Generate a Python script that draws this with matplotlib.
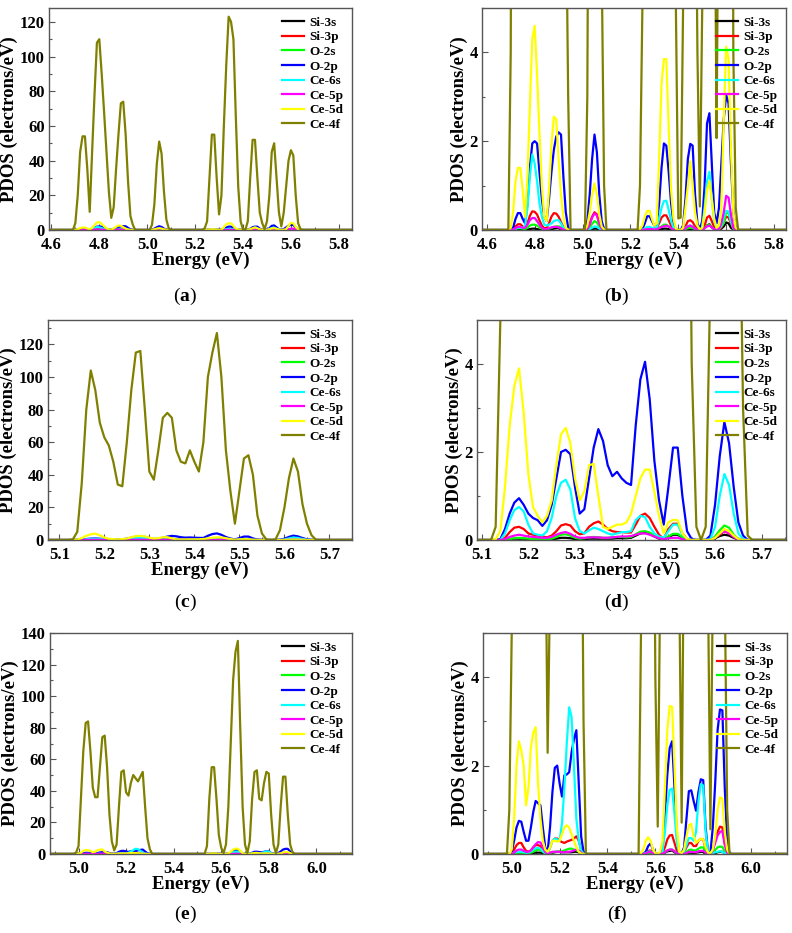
import numpy as np
import matplotlib
matplotlib.use("Agg")
import matplotlib.pyplot as plt
from matplotlib.ticker import MultipleLocator

plt.rcParams['font.family'] = 'Liberation Serif'
plt.rcParams['font.weight'] = 'bold'
plt.rcParams['mathtext.fontset'] = 'custom'
plt.rcParams['mathtext.rm'] = 'Liberation Serif'
plt.rcParams['mathtext.bf'] = 'Liberation Serif:bold'

labels = ["Si-3s", "Si-3p", "O-2s", "O-2p", "Ce-6s", "Ce-5p", "Ce-5d", "Ce-4f"]
colors = ["#000000", "#ff0000", "#00ff00", "#0000ff", "#00ffff", "#ff00ff", "#ffff00", "#808000"]

# ---------------- data set 1 : panels (a) and (b) ----------------
energy_a = [4.50,
            4.69, 4.70, 4.71, 4.72, 4.73, 4.74, 4.75, 4.76, 4.77, 4.78, 4.79, 4.80, 4.81, 4.82,
            4.83, 4.84, 4.85, 4.86, 4.87, 4.88, 4.89, 4.90, 4.91, 4.92, 4.93, 4.94, 4.95,
            5.01, 5.02, 5.03, 5.04, 5.05, 5.06, 5.07, 5.08, 5.09, 5.10,
            5.23, 5.24, 5.25, 5.26, 5.27, 5.28, 5.29, 5.30, 5.31, 5.32, 5.33, 5.34, 5.35, 5.36,
            5.37, 5.38, 5.39, 5.40, 5.41, 5.42, 5.43, 5.44, 5.45, 5.46, 5.47, 5.48, 5.49, 5.50,
            5.51, 5.52, 5.53, 5.54, 5.55, 5.56, 5.57, 5.58, 5.59, 5.60, 5.61, 5.62, 5.63, 5.64, 5.65,
            6.00]
si3s_a = [0,
          0, 0, 0, 0.01, 0.01, 0.01, 0.01, 0.01, 0.01, 0.02, 0.03, 0.03, 0.02, 0.01,
          0.01, 0, 0, 0.01, 0.02, 0.03, 0.04, 0.04, 0.03, 0.01, 0, 0, 0,
          0, 0, 0.01, 0.02, 0.03, 0.03, 0.01, 0, 0, 0,
          0, 0, 0, 0, 0.01, 0.01, 0.01, 0, 0.01, 0.01, 0.02, 0.03, 0.03, 0.02,
          0.01, 0, 0, 0, 0, 0, 0.01, 0.02, 0.02, 0.02, 0.01, 0, 0, 0.01,
          0.05, 0.1, 0.13, 0.06, 0.02, 0.01, 0.01, 0.03, 0.08, 0.17, 0.15, 0.05, 0.01, 0, 0,
          0]
si3p_a = [0,
          0, 0, 0.02, 0.08, 0.13, 0.13, 0.08, 0.05, 0.15, 0.32, 0.42, 0.41, 0.35, 0.22,
          0.1, 0.04, 0.05, 0.15, 0.3, 0.38, 0.37, 0.3, 0.18, 0.06, 0.01, 0, 0,
          0, 0.03, 0.15, 0.3, 0.4, 0.35, 0.15, 0.03, 0, 0,
          0, 0, 0.01, 0.02, 0.05, 0.05, 0.03, 0.02, 0.05, 0.15, 0.28, 0.33, 0.33, 0.22,
          0.1, 0.03, 0.01, 0, 0, 0.02, 0.08, 0.2, 0.22, 0.18, 0.08, 0.02, 0, 0.02,
          0.1, 0.28, 0.32, 0.2, 0.06, 0.02, 0.02, 0.05, 0.18, 0.3, 0.28, 0.15, 0.03, 0, 0,
          0]
o2s_a = [0,
         0, 0, 0.01, 0.02, 0.04, 0.04, 0.03, 0.02, 0.05, 0.1, 0.12, 0.12, 0.1, 0.06,
         0.03, 0.01, 0.01, 0.03, 0.05, 0.07, 0.08, 0.08, 0.06, 0.02, 0, 0, 0,
         0, 0.01, 0.06, 0.14, 0.2, 0.17, 0.08, 0.02, 0, 0,
         0, 0, 0, 0.01, 0.02, 0.02, 0.01, 0.01, 0.02, 0.05, 0.08, 0.12, 0.12, 0.08,
         0.04, 0.01, 0, 0, 0, 0.01, 0.02, 0.04, 0.05, 0.04, 0.02, 0, 0, 0.01,
         0.04, 0.1, 0.12, 0.07, 0.02, 0.01, 0.02, 0.08, 0.15, 0.4, 0.38, 0.18, 0.03, 0, 0,
         0]
o2p_a = [0,
         0, 0, 0.05, 0.25, 0.38, 0.38, 0.25, 0.15, 0.6, 1.4, 1.95, 2.0, 1.95, 1.3,
         0.7, 0.3, 0.2, 0.7, 1.3, 1.8, 2.1, 2.2, 2.15, 1.2, 0.4, 0.05, 0,
         0, 0.2, 0.8, 1.6, 2.15, 1.75, 0.8, 0.2, 0.02, 0,
         0, 0, 0.02, 0.15, 0.31, 0.31, 0.2, 0.1, 0.12, 0.6, 1.4, 1.95, 1.9, 1.3,
         0.6, 0.15, 0.02, 0, 0, 0.1, 0.7, 1.6, 1.94, 1.9, 0.8, 0.15, 0.02, 0.2,
         1.0, 2.4, 2.63, 1.5, 0.4, 0.15, 0.5, 1.5, 2.5, 3.04, 2.85, 1.5, 0.4, 0.05, 0,
         0]
ce6s_a = [0,
          0, 0, 0.01, 0.03, 0.05, 0.05, 0.05, 0.1, 0.5, 1.2, 1.7, 1.5, 1.1, 0.6,
          0.3, 0.12, 0.1, 0.12, 0.15, 0.2, 0.22, 0.22, 0.15, 0.05, 0.01, 0, 0,
          0, 0, 0.02, 0.05, 0.08, 0.07, 0.03, 0.01, 0, 0,
          0, 0, 0.01, 0.03, 0.07, 0.07, 0.05, 0.03, 0.05, 0.25, 0.5, 0.65, 0.66, 0.45,
          0.2, 0.05, 0.01, 0, 0, 0.02, 0.05, 0.09, 0.1, 0.08, 0.03, 0.01, 0, 0.05,
          0.5, 1.1, 1.31, 0.7, 0.2, 0.05, 0.03, 0.1, 0.3, 0.43, 0.42, 0.2, 0.05, 0.01, 0,
          0]
ce5p_a = [0,
          0, 0, 0.01, 0.04, 0.07, 0.07, 0.05, 0.05, 0.12, 0.22, 0.27, 0.27, 0.2, 0.12,
          0.05, 0.02, 0.02, 0.04, 0.06, 0.07, 0.07, 0.06, 0.04, 0.01, 0, 0, 0,
          0, 0.02, 0.12, 0.28, 0.37, 0.33, 0.15, 0.03, 0, 0,
          0, 0, 0, 0.01, 0.02, 0.02, 0.02, 0.01, 0.02, 0.04, 0.07, 0.08, 0.1, 0.08,
          0.04, 0.01, 0, 0, 0, 0.01, 0.04, 0.08, 0.1, 0.07, 0.03, 0.01, 0, 0.01,
          0.04, 0.08, 0.1, 0.06, 0.02, 0.01, 0.03, 0.15, 0.4, 0.77, 0.73, 0.35, 0.05, 0, 0,
          0]
ce5d_a = [0,
          0, 0.05, 0.4, 1.1, 1.4, 1.4, 0.9, 0.3, 1.2, 2.8, 4.3, 4.6, 3.5, 2.2,
          1.0, 0.3, 0.2, 0.9, 1.9, 2.55, 2.5, 1.6, 0.8, 0.3, 0.05, 0.01, 0,
          0, 0.1, 0.4, 0.8, 1.05, 0.8, 0.35, 0.08, 0.01, 0,
          0, 0.02, 0.1, 0.3, 0.43, 0.43, 0.25, 0.1, 0.15, 1.6, 3.3, 3.85, 3.85, 2.3,
          0.9, 0.25, 0.03, 0, 0, 0.05, 0.5, 1.0, 1.55, 1.0, 0.4, 0.1, 0.01, 0.05,
          0.4, 0.9, 1.1, 0.7, 0.25, 0.05, 0.1, 0.5, 2.5, 4.13, 3.85, 1.8, 0.4, 0.05, 0,
          0]
ce4f_a = [0,
          0, 4, 20, 45, 54, 54, 35, 10.5, 45, 78, 108, 110, 90, 68,
          45, 22, 7, 13, 35, 55, 73, 74, 55, 28, 8, 3, 0,
          0, 3, 15, 38, 51, 44, 22, 6, 1, 0,
          0, 1, 5, 30, 55, 55, 30, 9, 20, 60, 95, 123, 120, 110,
          65, 25, 5, 0.26, 0.28, 5, 30, 52, 52, 30, 10, 4, 0.53, 5,
          20, 45, 50, 30, 10, 2.07, 10, 25, 40, 46, 43, 20, 4, 0.5, 0,
          0]

# ---------------- data set 2 : panels (c) and (d) ----------------
energy_c = [5.00,
            5.12, 5.13, 5.14, 5.15, 5.16, 5.17, 5.18, 5.19, 5.20, 5.21, 5.22, 5.23, 5.24, 5.25,
            5.26, 5.27, 5.28, 5.29, 5.30, 5.31, 5.32, 5.33, 5.34, 5.35, 5.36, 5.37, 5.38, 5.39,
            5.40, 5.41, 5.42, 5.43, 5.44, 5.45, 5.46, 5.47, 5.48, 5.49, 5.50, 5.51, 5.52, 5.53,
            5.54, 5.55, 5.56, 5.57, 5.58, 5.59, 5.60, 5.61, 5.62, 5.63, 5.64, 5.65, 5.66, 5.67, 5.68,
            5.80]
si3s_c = [0,
          0, 0, 0, 0.01, 0.02, 0.03, 0.03, 0.03, 0.02, 0.02, 0.02, 0.01, 0.01, 0.02,
          0.03, 0.05, 0.05, 0.04, 0.02, 0.02, 0.02, 0.03, 0.03, 0.03, 0.03, 0.03, 0.03, 0.04,
          0.04, 0.04, 0.05, 0.1, 0.15, 0.16, 0.14, 0.08, 0.03, 0.01, 0.06, 0.12, 0.12, 0.05,
          0.01, 0, 0, 0, 0, 0, 0.04, 0.09, 0.12, 0.1, 0.05, 0.01, 0, 0, 0,
          0]
si3p_c = [0,
          0, 0, 0, 0.05, 0.18, 0.28, 0.3, 0.25, 0.15, 0.12, 0.1, 0.08, 0.06, 0.1,
          0.2, 0.33, 0.36, 0.33, 0.2, 0.13, 0.15, 0.3, 0.38, 0.42, 0.35, 0.25, 0.2, 0.18,
          0.18, 0.17, 0.17, 0.35, 0.55, 0.6, 0.5, 0.3, 0.12, 0.03, 0.25, 0.37, 0.37, 0.15,
          0.02, 0, 0, 0, 0, 0, 0.05, 0.12, 0.2, 0.15, 0.07, 0.01, 0, 0, 0,
          0]
o2s_c = [0,
         0, 0, 0, 0.01, 0.02, 0.04, 0.05, 0.04, 0.03, 0.02, 0.02, 0.02, 0.02, 0.03,
         0.07, 0.12, 0.13, 0.1, 0.05, 0.03, 0.04, 0.06, 0.07, 0.06, 0.05, 0.05, 0.06, 0.07,
         0.07, 0.06, 0.07, 0.13, 0.19, 0.2, 0.17, 0.1, 0.04, 0.02, 0.08, 0.14, 0.14, 0.06,
         0.01, 0, 0, 0, 0, 0, 0.08, 0.22, 0.33, 0.28, 0.12, 0.02, 0, 0, 0,
         0]
o2p_c = [0,
         0, 0, 0.02, 0.25, 0.6, 0.85, 0.95, 0.8, 0.6, 0.5, 0.45, 0.32, 0.45, 0.8,
         1.4, 2.0, 2.05, 1.95, 1.2, 0.6, 0.7, 1.4, 2.1, 2.52, 2.25, 1.7, 1.45, 1.55,
         1.4, 1.3, 1.25, 2.6, 3.65, 4.05, 3.2, 1.8, 0.9, 0.35, 1.2, 2.1, 2.1, 1.0,
         0.2, 0.02, 0, 0, 0, 0.1, 0.8, 1.9, 2.68, 2.2, 1.2, 0.4, 0.1, 0, 0,
         0]
ce6s_c = [0,
          0, 0, 0, 0.15, 0.45, 0.68, 0.75, 0.65, 0.35, 0.15, 0.12, 0.1, 0.2, 0.5,
          1.0, 1.3, 1.37, 1.15, 0.5, 0.2, 0.15, 0.22, 0.28, 0.25, 0.2, 0.15, 0.12, 0.15,
          0.18, 0.18, 0.2, 0.45, 0.55, 0.52, 0.3, 0.15, 0.08, 0.05, 0.2, 0.35, 0.35, 0.12,
          0.02, 0, 0, 0, 0, 0.02, 0.3, 1.0, 1.5, 1.25, 0.6, 0.15, 0.02, 0, 0,
          0]
ce5p_c = [0,
          0, 0, 0, 0.02, 0.07, 0.1, 0.12, 0.1, 0.08, 0.07, 0.06, 0.05, 0.05, 0.07,
          0.12, 0.16, 0.18, 0.14, 0.08, 0.05, 0.05, 0.06, 0.06, 0.06, 0.05, 0.05, 0.06, 0.07,
          0.08, 0.08, 0.09, 0.12, 0.15, 0.15, 0.12, 0.08, 0.04, 0.02, 0.04, 0.05, 0.05, 0.02,
          0, 0, 0, 0, 0, 0, 0.05, 0.14, 0.2, 0.16, 0.07, 0.01, 0, 0, 0,
          0]
ce5d_c = [0,
          0, 0.02, 0.2, 1.2, 2.6, 3.5, 3.9, 2.9, 1.5, 0.75, 0.55, 0.4, 0.55, 0.9,
          1.7, 2.4, 2.55, 2.2, 1.4, 0.9, 1.1, 1.7, 1.73, 1.0, 0.3, 0.25, 0.3, 0.35,
          0.35, 0.4, 0.6, 1.0, 1.4, 1.6, 1.6, 1.1, 0.55, 0.15, 0.4, 0.46, 0.45, 0.15,
          0.02, 0, 0, 0, 0, 0, 0.05, 0.15, 0.25, 0.2, 0.1, 0.02, 0, 0, 0,
          0]
ce4f_c = [0,
          0, 0.3, 5, 35, 80, 104, 92, 72, 63, 58, 48, 34, 33, 60,
          92, 115, 116, 80, 42, 37, 55, 75, 78, 75, 55, 48, 47, 55,
          48, 42, 60, 100, 115, 127, 100, 55, 30, 10, 30, 50, 52, 40,
          15, 4, 0.3, 0, 0.3, 6, 20, 38, 50, 42, 22, 10, 3, 0.1, 0,
          0]

# ---------------- data set 3 : panels (e) and (f) ----------------
energy_e = [4.80,
            4.98, 4.99, 5.00, 5.01, 5.02, 5.03, 5.04, 5.05, 5.06, 5.07, 5.08, 5.09, 5.10, 5.11,
            5.12, 5.13, 5.14, 5.15, 5.16, 5.17, 5.18, 5.19, 5.20, 5.21, 5.22, 5.23, 5.24, 5.25,
            5.26, 5.27, 5.28, 5.29, 5.30, 5.31,
            5.53, 5.54, 5.55, 5.56, 5.57, 5.58, 5.59, 5.60, 5.61, 5.62, 5.63, 5.64, 5.65, 5.66,
            5.67, 5.68, 5.69, 5.70, 5.71, 5.72, 5.73, 5.74, 5.75, 5.76, 5.77, 5.78, 5.79, 5.80,
            5.81, 5.82, 5.83, 5.84, 5.85, 5.86, 5.87, 5.88, 5.89, 5.90, 5.91, 5.92,
            6.20]
si3s_e = [0,
          0, 0, 0, 0.01, 0.02, 0.03, 0.03, 0.02, 0.01, 0.01, 0.01, 0.02, 0.03, 0.03,
          0.03, 0.02, 0.01, 0, 0.01, 0.03, 0.04, 0.05, 0.05, 0.04, 0.04, 0.04, 0.04, 0.04,
          0.05, 0.05, 0.04, 0.01, 0, 0,
          0, 0, 0, 0, 0.01, 0.02, 0.01, 0, 0, 0, 0.01, 0.03, 0.06, 0.07,
          0.08, 0.04, 0.01, 0, 0, 0, 0.01, 0.03, 0.03, 0.02, 0.03, 0.04, 0.05, 0.05,
          0.02, 0, 0, 0.01, 0.02, 0.04, 0.05, 0.05, 0.02, 0, 0, 0,
          0]
si3p_e = [0,
          0, 0, 0.02, 0.1, 0.2, 0.25, 0.25, 0.15, 0.07, 0.05, 0.08, 0.15, 0.2, 0.2,
          0.18, 0.1, 0.03, 0.02, 0.15, 0.3, 0.35, 0.35, 0.3, 0.27, 0.25, 0.28, 0.3, 0.32,
          0.35, 0.4, 0.3, 0.1, 0.02, 0,
          0, 0, 0.01, 0.03, 0.07, 0.08, 0.04, 0, 0, 0, 0.03, 0.15, 0.33, 0.42,
          0.43, 0.25, 0.07, 0.01, 0, 0.03, 0.15, 0.25, 0.25, 0.18, 0.18, 0.3, 0.34, 0.33,
          0.12, 0.02, 0, 0.1, 0.3, 0.5, 0.62, 0.6, 0.25, 0.05, 0, 0,
          0]
o2s_e = [0,
         0, 0, 0, 0.01, 0.02, 0.03, 0.03, 0.02, 0.02, 0.02, 0.03, 0.05, 0.08, 0.1,
         0.09, 0.05, 0.01, 0.01, 0.02, 0.04, 0.05, 0.05, 0.05, 0.06, 0.08, 0.1, 0.12, 0.12,
         0.1, 0.08, 0.06, 0.02, 0, 0,
         0, 0, 0, 0.01, 0.02, 0.03, 0.01, 0, 0, 0, 0.01, 0.04, 0.08, 0.1,
         0.1, 0.06, 0.02, 0, 0, 0.01, 0.04, 0.09, 0.1, 0.08, 0.08, 0.12, 0.15, 0.15,
         0.06, 0.01, 0, 0.03, 0.09, 0.15, 0.17, 0.16, 0.06, 0.01, 0, 0,
         0]
o2p_e = [0,
         0, 0, 0.05, 0.3, 0.6, 0.75, 0.73, 0.5, 0.3, 0.3, 0.6, 0.95, 1.2, 1.15,
         1.1, 0.6, 0.15, 0.05, 0.6, 1.4, 1.95, 2.0, 1.6, 1.3, 1.78, 1.8, 1.85, 2.3,
         2.6, 2.8, 1.6, 0.4, 0.05, 0,
         0, 0, 0.01, 0.05, 0.18, 0.24, 0.1, 0.01, 0, 0.02, 0.1, 0.9, 1.8, 2.4,
         2.55, 1.5, 0.4, 0.03, 0.02, 0.15, 0.8, 1.42, 1.44, 1.2, 0.98, 1.4, 1.69, 1.67,
         0.6, 0.05, 0.03, 0.6, 1.6, 2.8, 3.27, 3.25, 1.5, 0.3, 0.02, 0,
         0]
ce6s_e = [0,
          0, 0, 0.01, 0.03, 0.05, 0.05, 0.05, 0.04, 0.03, 0.03, 0.06, 0.1, 0.13, 0.14,
          0.12, 0.06, 0.02, 0.02, 0.15, 0.3, 0.35, 0.33, 0.3, 0.7, 1.5, 2.5, 3.32, 3.1,
          2.0, 0.8, 0.3, 0.08, 0.01, 0,
          0, 0, 0.01, 0.02, 0.05, 0.06, 0.03, 0, 0, 0, 0.05, 0.5, 1.1, 1.45,
          1.48, 0.9, 0.25, 0.02, 0, 0.05, 0.2, 0.36, 0.36, 0.3, 0.5, 1.2, 1.58, 1.55,
          0.5, 0.05, 0.01, 0.02, 0.04, 0.05, 0.06, 0.05, 0.02, 0, 0, 0,
          0]
ce5p_e = [0,
          0, 0, 0, 0.03, 0.08, 0.1, 0.1, 0.07, 0.05, 0.05, 0.08, 0.15, 0.22, 0.27,
          0.26, 0.15, 0.04, 0.02, 0.03, 0.05, 0.05, 0.05, 0.05, 0.04, 0.04, 0.05, 0.05, 0.06,
          0.08, 0.1, 0.08, 0.03, 0, 0,
          0, 0, 0, 0.01, 0.04, 0.05, 0.02, 0, 0, 0, 0.01, 0.04, 0.08, 0.1,
          0.1, 0.06, 0.02, 0, 0, 0, 0.02, 0.05, 0.05, 0.04, 0.04, 0.06, 0.07, 0.07,
          0.03, 0, 0, 0.08, 0.25, 0.42, 0.5, 0.52, 0.2, 0.03, 0, 0,
          0]
ce5d_e = [0,
          0, 0, 0.1, 0.8, 2.0, 2.55, 2.35, 2.0, 1.1, 1.5, 2.4, 2.75, 2.87, 1.6,
          0.8, 0.3, 0.1, 0.05, 0.15, 0.3, 0.3, 0.28, 0.3, 0.45, 0.6, 0.65, 0.6, 0.45,
          0.3, 0.15, 0.05, 0.01, 0, 0,
          0, 0.02, 0.1, 0.3, 0.38, 0.3, 0.1, 0.02, 0, 0.05, 0.3, 1.5, 2.8, 3.35,
          3.33, 2.0, 0.6, 0.05, 0.02, 0.1, 0.4, 0.65, 0.68, 0.4, 0.25, 0.3, 0.35, 0.33,
          0.15, 0.03, 0.02, 0.1, 0.4, 1.0, 1.28, 1.25, 0.5, 0.1, 0, 0,
          0]
ce4f_e = [0,
          0, 1, 5, 35, 65, 83, 84, 65, 42, 36, 36, 55, 74, 75,
          55, 25, 8, 2.29, 6, 30, 52, 53, 39, 37, 45, 50, 48, 46,
          49, 52, 30, 10, 3, 0,
          0, 5, 35, 55, 55, 35, 12, 4, 0.62, 6, 30, 70, 110, 128,
          135, 80, 30, 6, 0.71, 8, 35, 52, 53, 35, 34, 45, 52, 51,
          25, 6, 0.56, 6, 30, 49, 49, 25, 6, 1, 0, 0,
          0]

set_a = [si3s_a, si3p_a, o2s_a, o2p_a, ce6s_a, ce5p_a, ce5d_a, ce4f_a]
set_c = [si3s_c, si3p_c, o2s_c, o2p_c, ce6s_c, ce5p_c, ce5d_c, ce4f_c]
set_e = [si3s_e, si3p_e, o2s_e, o2p_e, ce6s_e, ce5p_e, ce5d_e, ce4f_e]

W, H = 792, 933
fig = plt.figure(figsize=(W / 100, H / 100), dpi=100)

# (tag, energy, series, axes box in px [left, top, right, bottom], xlim, xmajor, ylim, ymajor, tag pos)
panels = [
    ("a", energy_a, set_a, (49, 8, 352, 230), (4.59, 5.855), 0.2, (0, 128), 20, (185, 296)),
    ("b", energy_a, set_a, (482, 8, 786, 230), (4.58, 5.85), 0.2, (0, 5), 2, (617, 296)),
    ("c", energy_c, set_c, (48, 320, 352, 540), (5.075, 5.75), 0.1, (0, 135), 20, (185, 602)),
    ("d", energy_c, set_c, (477, 320, 786, 540), (5.09, 5.752), 0.1, (0, 5), 2, (617, 602)),
    ("e", energy_e, set_e, (50, 633, 352, 854), (4.88, 6.15), 0.2, (0, 140), 20, (185, 914)),
    ("f", energy_e, set_e, (483, 633, 787, 854), (4.88, 6.15), 0.2, (0, 5), 2, (617, 914)),
]

for tag, energy, series, box, xlim, xmaj, ylim, ymaj, tagpos in panels:
    l, t, r, b = box
    ax = fig.add_axes([l / W, 1 - b / H, (r - l) / W, (b - t) / H])
    for vals, lab, col in zip(series, labels, colors):
        ax.plot(energy, vals, color=col, lw=1.6, label=lab)
    ax.set_xlim(*xlim)
    ax.set_ylim(*ylim)
    ax.xaxis.set_major_locator(MultipleLocator(xmaj))
    ax.xaxis.set_minor_locator(MultipleLocator(xmaj / 2))
    ax.yaxis.set_major_locator(MultipleLocator(ymaj))
    ax.yaxis.set_minor_locator(MultipleLocator(ymaj / 2))
    ax.xaxis.set_major_formatter(plt.FormatStrFormatter('%.1f'))
    ax.tick_params(which='both', direction='in', top=False, right=False,
                   labelsize=12, color='#555555')
    ax.tick_params(axis='x', which='major', pad=5)
    ax.tick_params(axis='y', which='major', pad=3)
    ax.tick_params(which='major', length=4, width=0.8)
    ax.tick_params(which='minor', length=2, width=0.8)
    for sp in ax.spines.values():
        sp.set_color('#555555')
        sp.set_linewidth(1.0)
    ax.set_xlabel("Energy (eV)", fontsize=13.5, fontweight='bold', labelpad=-1)
    ax.set_ylabel("PDOS (electrons/eV)", fontsize=13.5, fontweight='bold', labelpad=1)
    ax.legend(loc='upper right', frameon=False, prop={'size': 9.5, 'weight': 'bold'},
              handlelength=1.7, labelspacing=0.18, handletextpad=0.4, borderaxespad=0.25)
    fig.text(tagpos[0] / W, 1 - tagpos[1] / H, r'($\mathbf{%s}$)' % tag,
             ha='center', va='center', fontsize=14, fontweight='normal')

fig.savefig("out.png", dpi=100)
